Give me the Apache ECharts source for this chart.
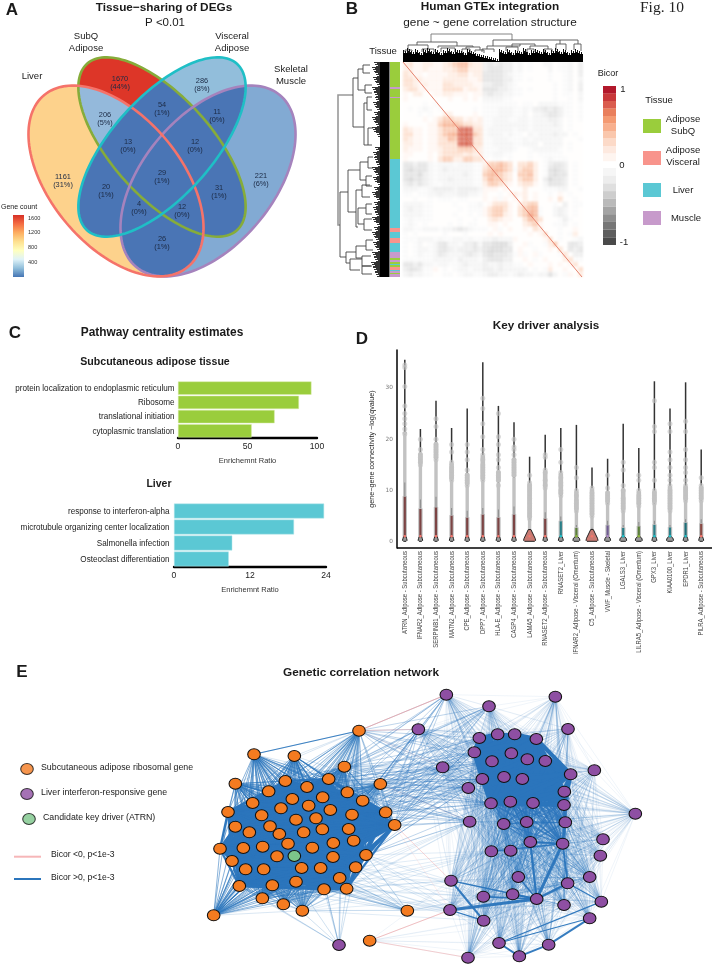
<!DOCTYPE html>
<html><head><meta charset="utf-8">
<style>html,body{margin:0;padding:0;background:#fff}
#c{position:absolute;left:0;top:0;width:713px;height:965px;filter:blur(0.4px);z-index:1}
#h{position:absolute;left:403px;top:62px;width:180px;height:215px;filter:blur(0.8px);z-index:0}</style>
<script src="https://cdn.jsdelivr.net/npm/echarts@6/dist/echarts.min.js"></script>
</head><body><div id="h"></div><div id="c"></div>
<script>
const SANS='"Liberation Sans",Arial,sans-serif';

/* ---------- A: Venn ---------- */
const vennSets={Liver:[116,181,112,65,50],SubQ:[162,147,112,50,48],Visceral:[162,147,112,50,-48],Muscle:[208,181,112,65,-50]};
const vennFills=[[['Liver'],'#FDD28C'],[['Muscle'],'#82AAD3'],[['Visceral'],'#92BEDB'],[['SubQ'],'#DD3628'],
 [['Liver','SubQ'],'#94B9DB'],[['Liver','Visceral'],'#4A75B5'],[['Liver','Muscle'],'#4A75B5'],[['SubQ','Visceral'],'#4A75B5'],[['SubQ','Muscle'],'#4A75B5'],[['Visceral','Muscle'],'#4A75B5']];
const vennStrokes=[['SubQ','#86AC3A'],['Muscle','#A583BD'],['Liver','#F5736A'],['Visceral','#1FBFC6']];
const vennCounts=[[120,83,'1670\n(44%)'],[202,85,'286\n(8%)'],[105,119,'206\n(5%)'],[162,109,'54\n(1%)'],[217,116,'11\n(0%)'],[128,146,'13\n(0%)'],[195,146,'12\n(0%)'],[63,181,'1161\n(31%)'],[162,177,'29\n(1%)'],[261,180,'221\n(6%)'],[106,191,'20\n(1%)'],[219,192,'31\n(1%)'],[139,208,'4\n(0%)'],[182,211,'12\n(0%)'],[162,243,'26\n(1%)']];
const geneCountStops=['#D73027','#F46D43','#FDAE61','#FEE090','#FFFFBF','#E0F3F8','#91BFDB','#4575B4'];
const geneCountTicks=[['1600',218],['1200',232.5],['800',247],['400',262]];

/* ---------- B: heatmap ---------- */
const bicorRows=[
"2311221123455322cdcdccab.a..bb.aab.c","2211211122344222cdddccab.a...b.aab.c","3211.11112233122ddddcbaa.....a..ab.c","3322111122222112ddddccaa.a...a..ab.b",
"3321211133222211ccddcba.......a.ab.c","2331111133331221dddccbaa.a....a.ab.c","1.22..1122111.11cdccbbaa......a.aa.b","1........1..1.1.bbbbaa........a..a.b",
"....a.a.........aaaaaaa.aa.bbbbaaa.a",".a.aba.a......a.aaabbbaabaccdcdcaa.a","...a.a..22....1.aaabbbaab.bbcddcaa.a","....1.1344331212aabbbaabbabbbccb.a.a",
"1....11455543322aabbbbbbbabbbbcb.a..","3211.11344477733abbbbbabbabbbbbb.a..","3311.11345577743abbbabaa.babbbcbb.a.","3211.11335477733aabbbaaababbbbbb...a",
"2211.11333377733aabbbbaabbb.bbbb.a..","2111.11233344432aaabbba..abbbbba.a..","11...1.233332322aabbaa...a.aaaaa....","1....1.344224433a.aa.a...a..abaaa...",
"ddcddbabbbabbbaa244543.3342.acddc.a.","dedddbabcbbbbbaa345543a3442.adedc.a.","dddecbabbbbbcbaa455432.4452.adedd.a.","deddcbabbcbbbbaa354432.3442.ceddc.a.",
"cdcdcbaabbbbbbaa244321.2331.bdddc.a.","bbbaabccccbccccb111.1...2...aaabb..a","aa.aabbcbbbccbba1..a.1212.1..a.1.a..","..a..a.aaa.aa...1.1a1.1.2.1..1.3..a.",
"bbbbaa....a..aab.13331.2344...a.c.aa","bcbbaa.....a.aaa134431.3455a..bcb.a.","bbbbaa....a..a.a134421.3465a..bcb.a.","abaaaa.....a..a..23211..3543...aca..",
"aba.a....a.a.aa..11.1...2341..aab.a.","bbaabbbabbcdcbaaa.1a.1..1.32...a..1.","a.a.....a...a....1.1.....1.13..a.a2.","aaabbbabaabbabaabbcbbb1.....13.a..ab",
"a.ab.abddbbaccdbddeeec..1a..a24..ddc","a.abbabddcbcccdcdeeedd.1..a..1.3.dcd","a.abaabdcbbbcdcbdedddca1a.1a...a3.cc","aaaaaabbbbacbbba cdddcc..1.a.1...23aa".replace(' ',''),
"ddcdbbabbaabcbbbcbbcbbaa.1...1.1.13.","cddcaa1.a.abbabbccbcbbbbb.a.a2..1..3","bcbbaa..aa.abbaabccbbabcbbabbdb.a1.2"];
const bicorScale={'.':0.01,'1':0.06,'2':0.13,'3':0.22,'4':0.34,'5':0.43,'6':0.52,'7':0.74,a:-0.04,b:-0.09,c:-0.15,d:-0.23,e:-0.3};
const heatStreakX=[2,6,11,14,19,23,27,31,36,39,44,48,53,57,61,66,70,74,78,83,87,92,96,101,105,110,114,118,123,127,132,136,141,145,150,154,158,163,167,172,176];
const heatStreakY=[3,7,12,16,21,25,30,34,39,43,48,52,57,61,66,70,75,79,84,88,93,97,102,106,111,115,120,124,129,133,138,142,147,151,156,160,165,169,174,178,183,187,192,196,201,205,210];
const bicorPos=['#B2182B','#C8383A','#DA5C4E','#E97F5C','#F49A72','#F8B08E','#FAC7AC','#FCDAC8','#FDE9DF','#FEF5F0'];
const bicorNeg=['#F6F6F6','#EDEDED','#DFDFDF','#CDCDCD','#BABABA','#A4A4A4','#8E8E8E','#767676','#5E5E5E','#4A4A4A'];
const tissueColors={S:'#9ACD3C',V:'#F8948C',L:'#5BC8D4',M:'#C79ACB'};
const tissueStrip=[['S',25],['M',2],['S',8],['M',1],['S',61],['L',69],['V',4],['L',6],['V',5],['L',9],['M',6],['S',2],['M',2],['S',2],['L',1],['S',2],['V',3],['L',1],['M',2],['S',1],['M',3]];
const topMerges=[[431,512,34,42,40],[417,457,42,45,46],[408,428,45,50,49],[438,473,46,48,47],[405,412,50,52,51],[422,434,49,52,52],[441,455,48,52,52],[466,480,47,49,50],[462,470,49,53,55],[475,484,50,52,53],
 [493,560,40,46,40],[487,520,46,49,44],[482,494,49,52,52],[512,535,44,47,46],[506,518,47,51,51],[530,548,46,49,49],[527,534,49,52,52],[544,552,49,52,52],[560,578,40,44,44],[556,566,44,50,50],[574,581,44,50,51]];
const leftMerges=[[95,225,338,353,340],[78,127,353,358,364],[69,90,358,363,365],[65,73,363,370,370],[85,93,365,372,372],[103,145,364,367,368],[97,110,367,372,372],[128,145,368,373,372],
 [192,257,340,348,346],[170,212,348,360,356],[162,180,360,368,366],[157,168,368,373,373],[176,186,366,372,372],[190,227,356,362,358],[185,197,362,370,370],[208,224,358,366,364],[204,214,366,372,372],[219,230,364,372,372],
 [252,263,346,356,350],[246,258,356,366,362],[240,250,366,373,373],[256,266,362,371,371],[259,270,350,362,360],[266,274,362,372,372]];
const topFringe=[50,48,51,49,52,49,48,51,49,52,50,48,51,49,50,52,49,51,53,54,55,56,57,58,49,51,49,52,50,51,48,52,50,49,51,49,52,50,48,51,49,52,50,49,51];
const leftFringe=[374,372,375,373,376,372,374,375,373,376,374,372,375,372,376,380,385,375,373,374,376,372,375,373,377,374,372,376,374,373,375,372,376,374,372,375,373,376,372,374,371,373,375];

/* ---------- C: bars ---------- */
const adiposePathways=['protein localization to endoplasmic reticulum','Ribosome','translational initiation','cytoplasmic translation'];
const adiposeRatio=[96,87,69.5,53];
const liverPathways=['response to interferon-alpha','microtubule organizing center localization','Salmonella infection','Osteoclast differentiation'];
const liverRatio=[23.7,18.95,9.2,8.65];

/* ---------- D: violins ---------- */
const driverNames=['ATRN_Adipose - Subcutaneous','IFNAR2_Adipose - Subcutaneous','SERPINB1_Adipose - Subcutaneous','MATN2_Adipose - Subcutaneous','CPE_Adipose - Subcutaneous','DPP7_Adipose - Subcutaneous','HLA-E_Adipose - Subcutaneous','CASP4_Adipose - Subcutaneous','LAMA5_Adipose - Subcutaneous','RNASET2_Adipose - Subcutaneous','RNASET2_Liver','IFNAR2_Adipose - Visceral (Omentum)','C5_Adipose - Subcutaneous','VWF_Muscle - Skeletal','LGALS3_Liver','LILRA5_Adipose - Visceral (Omentum)','GPX3_Liver','KIAA0100_Liver','EPDR1_Liver','PILRA_Adipose - Subcutaneous'];
const driverMax=[35.5,22,27.5,22.2,26,35,26.5,23.3,16.6,20.9,22.2,22.8,14.5,16.2,23,18.3,31.3,26,31.1,18];
const driverDense=[21,15,16,12,11,12,11.5,12.5,4.5,10.5,9,6,5,7.5,6,7,7.5,6,8,8];
const driverCloud=[21.5,17.5,19.5,15.5,13.5,17,14,16.5,11.5,14,13.5,10,10.5,10,10.5,10,10,11,11,11];
const driverQ3=[8.8,6.4,6.7,5.1,4.7,5.3,4.7,5.3,1.9,4.5,4.0,2.7,2.0,3.2,2.7,3.0,3.3,2.8,3.7,3.5];
const driverBase=[2.3,2.3,2.3,2.3,2.3,2.3,2.3,2.3,6,2.3,2.5,3.5,6,3,3.5,3.5,2.5,3.5,2.5,2.5];
const driverBox=['#7C4444','#7C4444','#7C4444','#7C4444','#7C4444','#7C4444','#7C4444','#7C4444','#B05A55','#7C4444','#2A7F88','#5C7F3A','#B05A55','#6F5C90','#2A7F88','#5C7F3A','#2A7F88','#2A7F88','#1F6E78','#8A4A45'];
const driverDot=['#F4776D','#F4776D','#F4776D','#F4776D','#F4776D','#F4776D','#F4776D','#F4776D','#F4776D','#F4776D','#20C0C8','#8AB33C','#F4776D','#B18AC8','#20C0C8','#8AB33C','#20C0C8','#20C0C8','#20C0C8','#F4776D'];
const driverOutliers=[
 [34.5,34,30.3,26.5,25,24,23,22,21],[20,18,17,16.5,16,15.5,15],[24,22.5,20,19,18.5,18,17.5,17,16.5,16],[19,17.5,15.5,14.5,14,13.5,13,12.5,12],[19,17.5,16,14,13,12.5,12,11.5,11],
 [28,26,23,20.5,18,17,16,15,14.5,14,13.5,13,12.5,12],[25,20.5,19,17,16,14.5,13.5,13,12.5,12,11],[20,18.5,18,17,16,15.5,15,14.5,14,13.5,13],[13,11.5,11,10.5,10,9.5,9,8.5,8,7.5,7,6.5,6,5.5,5,4.5],[17,16.5,14,13.5,12,11,10.5],
 [18,15.5,13.5,12.5,11.5,11,10,9.5,9],[14.5,12.5,10,9,8,7.5,7,6.5,6],[10.5,9.5,9,8.5,8,7.5,7,6.5,6,5.5,5],[13,10.5,9.5,9,8.5,8,7.5],[15.5,14,11,10,8.5,8,7.5,7,6.5,6],
 [13,12,10,9,8.5,8,7.5,7],[27.5,22.5,21.5,15.5,14.5,12,10,9.5,9,8.5,8,7.5],[23,21.5,17.5,16,14.5,13,12,11,10,9.5,9,8.5,8,7.5,7,6.5,6],[23.5,21.5,18,16,14.5,13.5,12,11,10.5,10,9.5,9,8.5,8],[12.5,11,10.5,10,9.5,9,8.5,8]];

/* ---------- E: network (readings at 3x; left crop origin 0,650; right crop origin 380,650) ---------- */
const orangeCore=[[856,393],[986,387],[806,424],[921,411],[1042,427],[968,442],[877,447],[758,459],[1088,452],[684,486],[843,475],[926,467],[991,480],[1157,487],[785,496],[1056,494],[888,509],[948,505],[706,530],[810,529],[1184,525],[748,547],[838,552],[911,547],[967,538],[1046,537],[864,581],[1061,572],[1000,579],[660,596],[730,594],[788,590],[937,593],[1098,615],[831,619],[999,621],[696,633],[737,658],[791,658],[905,654],[962,654],[1067,652],[1019,684],[888,695],[718,708],[817,706],[972,718],[1040,716]];
const orangeRimStrong=[[762,313],[641,796],[706,401],[883,318],[1033,350],[787,745]];
const orangeRimLight=[[1077,242],[1141,402],[850,763],[907,782]];
const orangeFar=[[1109,872]];
const orangeFarRight=[[82,782]];
const atrnNode=[883,618];
const purpleStray=[[1017,885]];
const purpleUpper=[[298,264],[353,253],[404,253],[469,267],[283,307],[336,334],[394,310],[442,328],[496,333],[307,387],[372,381],[427,387],[572,373],[553,425],[333,460],[391,455],[459,459],[552,465]];
const purpleMidA=[[371,522],[440,516],[556,517],[451,576],[548,581]];
const purpleMidB=[[334,604],[392,602],[415,681],[563,700],[470,747],[398,733],[310,740],[552,765],[629,681]];
const purpleRim=[[199,134],[327,169],[526,140],[115,238],[564,237],[188,352],[643,361],[265,414],[766,491],[269,515],[669,568],[661,617],[213,692],[664,755],[210,780],[311,812],[629,805],[357,879],[506,884],[264,923],[418,919]];
const strongLinks=[[[470,747],[548,581],3],[[470,747],[210,780],3],[[470,747],[451,576],2.2],[[563,700],[470,747],2.5],[[213,692],[311,812],2.2],[[506,884],[629,805],2],[[418,919],[506,884],2],[[357,879],[418,919],2],[[357,879],[664,755],1.2],[[548,581],[556,517],2.5],[[548,581],[563,700],1.8],[[334,604],[548,581],1.4],[[210,780],[311,812],1.2],[[310,740],[470,747],1.6],[[398,733],[470,747],1.8],[[563,700],[664,755],1.1],[[629,805],[357,879],1.1],[[556,517],[552,465],2.4],[[213,692],[470,747],1.3],[[451,576],[548,581],1.8],[[415,681],[470,747],1.4]];
const pinkLinks=[[[1077,242,'L'],[199,134],.7],[[1077,242,'L'],[115,238],.4],[[1077,242,'L'],[188,352],.15],[[1109,872,'L'],[210,780],.6],[[1109,872,'L'],[264,923],.45],[[1184,525,'L'],[213,692],.4],[[1141,402,'L'],[269,515],.15],[[1157,487,'L'],[210,780],.15]];
const crossFrom=[[1141,402],[1157,487],[1184,525],[1033,350],[1042,427],[1088,452],[986,387],[1056,494],[1077,242],[1098,615],[1046,537],[921,411]];
const crossTo=[[188,352],[115,238],[283,307],[298,264],[307,387],[265,414],[269,515],[333,460],[336,334],[199,134],[327,169]];
const crossLowFrom=[[1098,615],[1040,716],[1067,652],[907,782],[972,718],[1019,684]];
const crossLowTo=[[213,692],[210,780],[310,740],[334,604],[269,515],[82,782,'F'],[311,812]];

const L=(p)=>[p[0]/3,650+p[1]/3], R=(p)=>[380+p[0]/3,650+p[1]/3];

/* ---------- helpers ---------- */
function ellipse(e){const [cx,cy,a,b,d]=e,t=d*Math.PI/180,o=[];for(let i=0;i<144;i++){const u=i/144*2*Math.PI;o.push([cx+a*Math.cos(u)*Math.cos(t)-b*Math.sin(u)*Math.sin(t),cy+a*Math.cos(u)*Math.sin(t)+b*Math.sin(u)*Math.cos(t)]);}return o;}
function clip(poly,c){let out=poly;for(let i=0;i<c.length&&out.length;i++){const p=c[i],q=c[(i+1)%c.length],inp=out;out=[];const f=r=>(q[0]-p[0])*(r[1]-p[1])-(q[1]-p[1])*(r[0]-p[0]);for(let j=0;j<inp.length;j++){const A=inp[j],B=inp[(j+1)%inp.length],fa=f(A),fb=f(B);if(fa>=0)out.push(A);if((fa>=0)!==(fb>=0)){const s=fa/(fa-fb);out.push([A[0]+s*(B[0]-A[0]),A[1]+s*(B[1]-A[1])]);}}}return out;}
const overlay={xAxisIndex:0,yAxisIndex:0};
const mk=(name,data,renderItem,z)=>({type:'custom',name,...overlay,data,renderItem,z,silent:true,clip:false,animation:false});

/* ---------- network build ---------- */
const netNodes=[],netIndex={},netLinks=[];
function addNodes(list,conv,tag,color){return list.map(p=>{const i=netNodes.length,v=conv(p);netNodes.push({value:v,itemStyle:{color}});netIndex[tag+p[0]+','+p[1]]=i;return i;});}
const O='#F47B20',P='#8E4FA3';
const iCore=addNodes(orangeCore,L,'L',O),iRS=addNodes(orangeRimStrong,L,'L',O),iRL=addNodes(orangeRimLight,L,'L',O),iFar=addNodes(orangeFar,L,'L',O),iFarR=addNodes(orangeFarRight,R,'F',O);
const iAtrn=addNodes([atrnNode],L,'L','#7CC68A'),iStray=addNodes(purpleStray,L,'L',P);
const iU=addNodes(purpleUpper,R,'R',P),iMA=addNodes(purpleMidA,R,'R',P),iMB=addNodes(purpleMidB,R,'R',P),iRim=addNodes(purpleRim,R,'R',P);
const BLUE='#2B75BC',PINK='#F29A9A';
function pairs(A,B,width,opacity,color){for(let x=0;x<A.length;x++)for(let y=0;y<B.length;y++){if(A===B&&y<=x)continue;if(A[x]===B[y])continue;netLinks.push({source:A[x],target:B[y],lineStyle:{width,opacity,color:color||BLUE,curveness:0}});}}
const look=(p,tag)=>netIndex[(p[2]||tag)+p[0]+','+p[1]];
pairs(iRL,iRL,.7,.12);pairs(iRim,iRim,.8,.09);
pairs(crossLowFrom.map(p=>look(p,'L')),crossLowTo.map(p=>look(p,'R')),.9,.16);
pairs(iFar,iRim.slice(12),.7,.1);pairs(iFarR,iCore.slice(33),.8,.22);pairs(iFarR,iMB,.7,.1);pairs(iStray,iCore.slice(40),.8,.28);pairs(iStray,iRS.slice(3),.8,.35);
pairs(crossFrom.map(p=>look(p,'L')),crossTo.map(p=>look(p,'R')),1,.3);
pairs(iRL,iCore,.9,.4);pairs(iRS,iCore,.9,.62);pairs(iRS,iRL,.9,.2);
pairs([iRS[0]],[iRL[0]],1.1,.9);
pairs(iAtrn,iCore,1.4,.9);pairs(iCore,iCore,2.3,.97);
pairs(iRim,iU,.8,.2);pairs(iRim,iMA,.8,.24);pairs(iRim,iMB,.8,.2);pairs(iMB,iMB,.9,.3);pairs(iU,iMB,.9,.16);pairs(iMA,iMB,1,.38);pairs(iU,iMA,1.3,.62);pairs(iMA,iMA,1.3,.7);pairs(iU,iU,4.2,1);
pinkLinks.forEach(l=>netLinks.push({source:look(l[0],'L'),target:look(l[1],'R'),lineStyle:{width:1,opacity:l[2],color:PINK}}));
strongLinks.forEach(l=>netLinks.push({source:look(l[0],'R'),target:look(l[1],'R'),lineStyle:{width:l[2],opacity:.95,color:BLUE}}));

/* ---------- text ---------- */
const texts=[
 ['A',12,10,17,'bold'],['B',352,9,17,'bold'],['C',15,333,17,'bold'],['D',362,339,17,'bold'],['E',22,672,17,'bold'],
 ['Tissue\u2212sharing of DEGs',164,8,11.8,'bold'],['P <0.01',165,23,11.5,'normal'],
 ['Liver',32,76,9.5],['SubQ\nAdipose',86,42,9.5],['Visceral\nAdipose',232,42,9.5],['Skeletal\nMuscle',291,75,9.5],
 ['Human GTEx integration',490,7,11.8,'bold'],['gene ~ gene correlation structure',490,23,11.8],
 ['Tissue',383,51,9.5],['Bicor',608,74,9],['1',623,89,9.5],['0',622,165,9.5],['-1',624,242,9.5],
 ['Tissue',659,100,9.5],['Adipose\nSubQ',683,125,9.5],['Adipose\nVisceral',683,156,9.5],['Liver',683,190,9.5],['Muscle',686,218,9.5],
 ['Pathway centrality estimates',162,333,11.9,'bold'],['Subcutaneous adipose tissue',155,362,10.6,'bold'],['Liver',159,484,10.5,'bold'],
 ['Key driver analysis',546,326,11.7,'bold'],['Genetic correlation network',361,673,11.8,'bold'],
 ['Subcutaneous adipose ribosomal gene',41,768,8.8,'normal','left'],['Liver interferon-responsive gene',41,793,8.8,'normal','left'],['Candidate key driver (ATRN)',43,818,8.8,'normal','left'],
 ['Bicor <0, p<1e-3',51,855,8.6,'normal','left'],['Bicor >0, p<1e-3',51,878,8.6,'normal','left'],
 ['Gene count',1,207,7,'normal','left']];
const graphicEls=texts.map(t=>({type:'text',x:t[1],y:t[2],silent:true,z:50,style:{text:t[0],fontFamily:SANS,fontSize:t[3],fontWeight:t[4]||'normal',fill:'#1a1a1a',align:t[5]||'center',verticalAlign:'middle',lineHeight:t[3]*1.27}}));
graphicEls.push({type:'text',x:640,y:8,silent:true,style:{text:'Fig. 10',fontFamily:'"Liberation Serif",serif',fontSize:15.5,fill:'#222',align:'left',verticalAlign:'middle'}});
geneCountTicks.forEach(t=>graphicEls.push({type:'text',x:28,y:t[1],silent:true,style:{text:t[0],fontFamily:SANS,fontSize:5.6,fill:'#333',align:'left',verticalAlign:'middle'}}));

/* ---------- series ---------- */
const series=[];
series.push(mk('vennFill',vennFills.map((d,i)=>[i]),(p,api)=>{const d=vennFills[p.dataIndex];let poly=ellipse(vennSets[d[0][0]]);if(d[0][1])poly=clip(poly,ellipse(vennSets[d[0][1]]));return{type:'polygon',shape:{points:poly.map(q=>api.coord(q))},style:{fill:d[1],stroke:d[1],lineWidth:.3}};},2));
series.push(mk('vennStroke',vennStrokes.map((d,i)=>[i]),(p,api)=>{const d=vennStrokes[p.dataIndex];return{type:'polygon',shape:{points:ellipse(vennSets[d[0]]).map(q=>api.coord(q))},style:{fill:'none',stroke:d[1],lineWidth:2.6}};},3));
series.push(mk('vennCounts',vennCounts.map(d=>[d[0],d[1]]),(p,api)=>{const c=api.coord([api.value(0),api.value(1)]);return{type:'text',x:c[0],y:c[1],style:{text:vennCounts[p.dataIndex][2],fontFamily:SANS,fontSize:7.4,fill:'#1c2a44',align:'center',verticalAlign:'middle',lineHeight:8.6}};},4));
series.push(mk('geneBar',[[13,215,24,277]],(p,api)=>{const a=api.coord([api.value(0),api.value(1)]),b=api.coord([api.value(2),api.value(3)]);return{type:'rect',shape:{x:a[0],y:a[1],width:b[0]-a[0],height:b[1]-a[1]},style:{fill:new echarts.graphic.LinearGradient(0,0,0,1,geneCountStops.map((c,i)=>({offset:i/(geneCountStops.length-1),color:c})))}};},3));

series.push({type:'line',name:'diagonal',...overlay,data:[[403,62],[582,277]],showSymbol:false,lineStyle:{color:'#E4816C',width:1},silent:true,animation:false,z:3});
let stripY=62;const stripSegs=tissueStrip.map(s=>{const r=[stripY,stripY+s[1],s[0]];stripY+=s[1];return r;});
series.push(mk('tissueStrip',stripSegs.map(s=>[390,s[0],400,s[1]]),(p,api)=>{const a=api.coord([api.value(0),api.value(1)]),b=api.coord([api.value(2),api.value(3)]);return{type:'rect',shape:{x:a[0],y:a[1],width:b[0]-a[0],height:b[1]-a[1]},style:{fill:tissueColors[stripSegs[p.dataIndex][2]]}};},3));
series.push(mk('topDendro',topMerges,(p,api)=>{const [x1,x2,t,b1,b2]=topMerges[p.dataIndex];return{type:'polyline',shape:{points:[[x1,b1],[x1,t],[x2,t],[x2,b2]].map(q=>api.coord(q))},style:{fill:'none',stroke:p.dataIndex?'#555':'#777',lineWidth:.9}};},3));
series.push(mk('leftDendro',leftMerges,(p,api)=>{const [t,b,x,e1,e2]=leftMerges[p.dataIndex];return{type:'polyline',shape:{points:[[e1,t],[x,t],[x,b],[e2,b]].map(q=>api.coord(q))},style:{fill:'none',stroke:p.dataIndex?'#444':'#999',lineWidth:p.dataIndex?.9:1.6}};},3));
const toothA=[0,3,1,4],toothB=[0,3,1,4,2];
series.push(mk('topFringe',topFringe.map((v,i)=>[403+4*i,v]),(p,api)=>{const x=api.value(0),v=api.value(1),top=Math.max(53,v+3),ch=toothA.map((d,k)=>{const a=api.coord([x+k+.5,v+d]),b=api.coord([x+k+.5,top]);return{type:'line',shape:{x1:a[0],y1:a[1],x2:b[0],y2:b[1]},style:{stroke:'#111',lineWidth:1}};});const a=api.coord([x,top]),b=api.coord([x+4,62]);ch.push({type:'rect',shape:{x:a[0],y:a[1],width:b[0]-a[0],height:b[1]-a[1]},style:{fill:'#000'}});return{type:'group',children:ch};},3));
series.push(mk('leftFringe',leftFringe.map((v,i)=>[v,62+5*i]),(p,api)=>{const v=api.value(0),y=api.value(1),ch=toothB.map((d,k)=>{const a=api.coord([v+d,y+k+.5]),b=api.coord([381,y+k+.5]);return{type:'line',shape:{x1:a[0],y1:a[1],x2:b[0],y2:b[1]},style:{stroke:'#333',lineWidth:1}};});const a=api.coord([380,y]),b=api.coord([389.5,y+5]);ch.push({type:'rect',shape:{x:a[0],y:a[1],width:b[0]-a[0],height:b[1]-a[1]},style:{fill:'#000'}});return{type:'group',children:ch};},3));
const bicorSteps=bicorPos.map((c,i)=>[86+7.5*i,c]).concat(bicorNeg.map((c,i)=>[168+7.7*i,c]));
series.push(mk('bicorBar',bicorSteps.map(d=>[603,d[0]]),(p,api)=>{const a=api.coord([api.value(0),api.value(1)]),b=api.coord([api.value(0)+13,api.value(1)+7.7]);return{type:'rect',shape:{x:a[0],y:a[1],width:b[0]-a[0],height:b[1]-a[1]},style:{fill:bicorSteps[p.dataIndex][1]}};},3));
const tissueLegend=[[119,'S'],[151,'V'],[183,'L'],[211,'M']];
series.push(mk('tissueLegend',tissueLegend.map(d=>[643,d[0]]),(p,api)=>{const a=api.coord([api.value(0),api.value(1)]),b=api.coord([api.value(0)+18,api.value(1)+14]);return{type:'rect',shape:{x:a[0],y:a[1],width:b[0]-a[0],height:b[1]-a[1]},style:{fill:tissueColors[tissueLegend[p.dataIndex][1]]}};},3));

/* bars */
series.push({type:'bar',xAxisIndex:1,yAxisIndex:1,data:adiposeRatio,barCategoryGap:'7%',itemStyle:{color:'#9ACD3C',borderColor:'#D6EBA5',borderWidth:.5},animation:false,silent:true});
series.push({type:'bar',xAxisIndex:2,yAxisIndex:2,data:liverRatio,barCategoryGap:'7%',itemStyle:{color:'#5BC8D4',borderColor:'#B5E6EB',borderWidth:.5},animation:false,silent:true});
function barLabels(ax,names,gap){return{type:'custom',name:'pathwayLabels',xAxisIndex:ax,yAxisIndex:ax,data:names.map((n,i)=>[0,i]),silent:true,clip:false,animation:false,z:4,renderItem:(p,api)=>{const c=api.coord([0,p.dataIndex]);return{type:'text',x:c[0]-gap,y:c[1],scaleX:.846,style:{text:names[p.dataIndex],fontFamily:SANS,fontSize:9.6,fill:'#222',align:'right',verticalAlign:'middle'}};}};}
series.push(barLabels(1,adiposePathways,3.5),barLabels(2,liverPathways,4.5));

/* violins */
const vd=driverNames.map((n,i)=>[i,driverMax[i],driverDense[i],driverQ3[i],driverBase[i],driverCloud[i]]);
series.push({type:'custom',name:'violinBody',xAxisIndex:3,yAxisIndex:3,data:vd,silent:true,animation:false,z:2,renderItem:(p,api)=>{const i=api.value(0),c=v=>api.coord([i,v]);const x=c(0)[0];return{type:'group',children:[
 {type:'rect',shape:{x:x-.75,y:c(api.value(1))[1],width:1.5,height:c(.5)[1]-c(api.value(1))[1]},style:{fill:'#333'}},
 {type:'rect',shape:{x:x-2.3,y:c(api.value(5))[1],width:4.6,height:c(api.value(2))[1]-c(api.value(5))[1],r:2},style:{fill:'#C2C2C2'}},
 {type:'rect',shape:{x:x-1.7,y:c(api.value(2))[1],width:3.4,height:c(.5)[1]-c(api.value(2))[1]},style:{fill:'#C2C2C2'}},
 {type:'rect',shape:{x:x-.5,y:c(api.value(2)*.55)[1],width:1,height:c(.5)[1]-c(api.value(2)*.55)[1]},style:{fill:'#8c8c8c'}}]};}});
const outData=[];driverOutliers.forEach((a,i)=>a.forEach(v=>outData.push([i,v])));
series.push({type:'scatter',name:'connectivity',xAxisIndex:3,yAxisIndex:3,data:outData,symbolSize:5,itemStyle:{color:'rgba(194,194,194,.8)'},silent:true,animation:false,z:3});
series.push({type:'custom',name:'violinBox',xAxisIndex:3,yAxisIndex:3,data:vd,silent:true,animation:false,z:4,renderItem:(p,api)=>{const k=p.dataIndex,i=api.value(0),c=v=>api.coord([i,v]);const x=c(0)[0],w=api.value(4),by=c(.3)[1],ty=c(w>5?2.4:1)[1],q=c(api.value(3))[1],q1=c(1)[1];return{type:'group',children:[
 {type:'rect',shape:{x:x-2.2,y:q-.6,width:4.4,height:q1-q+.6},style:{fill:'#BFBFBF'}},
 {type:'rect',shape:{x:x-1.1,y:q,width:2.2,height:q1-q},style:{fill:driverBox[k]}},
 {type:'polygon',shape:{points:[[x-w,by],[x-w+.5,by-2],[x-1.3,ty],[x+1.3,ty],[x+w-.5,by-2],[x+w,by],[x+w-1,by+1],[x-w+1,by+1]]},style:{fill:w>5?'#C97A72':'#999',stroke:'#222',lineWidth:1}},
 {type:'circle',shape:{cx:x,cy:c(1.1)[1],r:1.3},style:{fill:driverDot[k]}}]};}});
series.push({type:'custom',name:'driverLabels',xAxisIndex:3,yAxisIndex:3,data:driverNames.map((n,i)=>[i,-1.2]),silent:true,clip:false,animation:false,z:4,renderItem:(p,api)=>{const c=api.coord([p.dataIndex,-1.2]);return{type:'text',x:c[0],y:c[1]+3,rotation:Math.PI/2,scaleX:.776,style:{text:driverNames[p.dataIndex],fontFamily:SANS,fontSize:7.6,fill:'#444',align:'right',verticalAlign:'middle'}};}});

/* network */
series.push({type:'graph',name:'network',coordinateSystem:'cartesian2d',...overlay,layout:'none',data:netNodes,links:netLinks,symbol:'circle',symbolSize:[12.6,11],itemStyle:{borderColor:'#111',borderWidth:1},lineStyle:{curveness:0},silent:true,animation:false,z:5});
const legendPts=[[27,769,O],[27,794,P],[29,819,'#7CC68A']];
series.push({type:'scatter',name:'nodeKey',...overlay,data:legendPts.map(d=>({value:[d[0],d[1]],itemStyle:{color:d[2]}})),symbolSize:[12.6,11],itemStyle:{borderColor:'#111',borderWidth:1},silent:true,animation:false,z:5});
series.push({type:'line',...overlay,data:[[14,856.7],[41,856.7]],showSymbol:false,lineStyle:{color:'#F6B6B8',width:2},silent:true,animation:false});
series.push({type:'line',...overlay,data:[[14,879],[41,879]],showSymbol:false,lineStyle:{color:BLUE,width:2},silent:true,animation:false});
series.push({type:'line',...overlay,data:[[397,548],[712,548]],showSymbol:false,lineStyle:{color:'#000',width:1.5},silent:true,animation:false});

const hidden=(o)=>Object.assign({show:false},o);
const axisBlack={show:true,lineStyle:{color:'#000',width:2.4}};
const ratioName={name:'Enrichemnt Ratio',nameLocation:'middle',nameGap:19,nameTextStyle:{fontFamily:SANS,fontSize:7.5,color:'#333'}};
const ratioLabel={fontFamily:SANS,fontSize:8.6,color:'#222',margin:4};
const opt={
 backgroundColor:'transparent',animation:false,
 grid:[{left:0,top:0,width:713,height:965},{left:178,top:381,width:139,height:57},{left:174,top:503,width:152,height:64},{left:397,top:350,width:312,height:198}],
 xAxis:[
  hidden({type:'value',gridIndex:0,min:0,max:713}),
  {type:'value',gridIndex:1,min:0,max:100,interval:50,splitLine:{show:false},axisLine:axisBlack,axisTick:{lineStyle:{color:'#000',width:1.5},length:2.5},axisLabel:ratioLabel,...ratioName},
  {type:'value',gridIndex:2,min:0,max:24,interval:12,splitLine:{show:false},axisLine:axisBlack,axisTick:{lineStyle:{color:'#000',width:1.5},length:2.5},axisLabel:ratioLabel,...ratioName},
  {type:'category',gridIndex:3,data:driverNames,axisLine:{show:false,onZero:false},axisTick:{show:false},axisLabel:{show:false},splitLine:{show:false}}],
 yAxis:[
  hidden({type:'value',gridIndex:0,min:0,max:965,inverse:true}),
  {type:'category',gridIndex:1,inverse:true,data:adiposePathways,axisLine:{show:false},axisTick:{show:false},axisLabel:{show:false}},
  {type:'category',gridIndex:2,inverse:true,data:liverPathways,axisLine:{show:false},axisTick:{show:false},axisLabel:{show:false}},
  {type:'value',gridIndex:3,min:-1.2,max:37.4,splitLine:{show:false},axisLine:{show:true,onZero:false,lineStyle:{color:'#000',width:1.5}},axisTick:{show:false},axisLabel:{customValues:[0,10,20,30],fontFamily:'"DejaVu Sans",sans-serif',fontSize:5.8,color:'#777',margin:4},name:'gene\u2212gene connectivity \u2212log(qvalue)',nameLocation:'middle',nameRotate:90,nameGap:21,nameTextStyle:{fontFamily:SANS,fontSize:7.2,color:'#222'}}],
 graphic:{elements:graphicEls},
 series
};
echarts.init(document.getElementById('c')).setOption(opt);

/* heatmap, drawn under the main layer with a softer edge */
const heatData=[];bicorRows.forEach((r,j)=>{for(let i=0;i<36;i++)heatData.push([i,j,bicorScale[r[i]||'.']]);});
const streak=(list,vertical)=>({type:'custom',xAxisIndex:1,yAxisIndex:1,data:list.map(v=>[v]),silent:true,animation:false,z:5,renderItem:(p,api)=>{const v=api.value(0),a=vertical?api.coord([v,0]):api.coord([0,v]),b=vertical?api.coord([v,215]):api.coord([180,v]);return{type:'line',shape:{x1:a[0],y1:a[1],x2:b[0],y2:b[1]},style:{stroke:'rgba(255,255,255,.5)',lineWidth:1}};}});
echarts.init(document.getElementById('h')).setOption({animation:false,backgroundColor:'#fff',
 grid:{left:0,top:0,right:0,bottom:0},
 xAxis:[{type:'category',show:false,data:Array.from({length:36},(_,i)=>i)},{type:'value',show:false,min:0,max:180}],
 yAxis:[{type:'category',show:false,inverse:true,data:bicorRows.map((r,i)=>i)},{type:'value',show:false,min:0,max:215,inverse:true}],
 visualMap:{show:false,type:'continuous',seriesIndex:0,min:-1,max:1,inRange:{color:['#4A4A4A','#878787','#BABABA','#E0E0E0','#FFFFFF','#FDDBC7','#F4A582','#D6604D','#B2182B']}},
 series:[{type:'heatmap',data:heatData,progressive:0,animation:false,silent:true},streak(heatStreakX,true),streak(heatStreakY,false)]});
</script></body></html>
